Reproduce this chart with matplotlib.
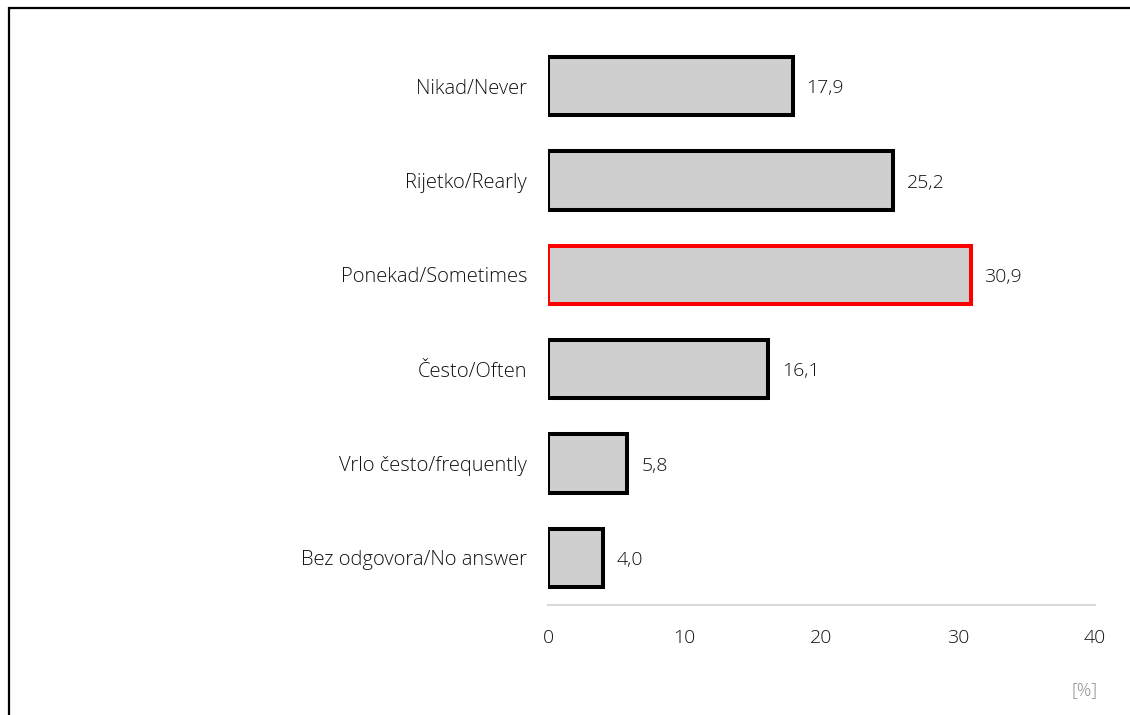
import matplotlib.pyplot as plt
from matplotlib.patches import Rectangle

categories = ['Nikad/Never', 'Rijetko/Rearly', 'Ponekad/Sometimes',
              'Često/Often', 'Vrlo često/frequently', 'Bez odgovora/No answer']
values = [17.9, 25.2, 30.9, 16.1, 5.8, 4.0]
highlight = 'Ponekad/Sometimes'
xticks = [0, 10, 20, 30, 40]

plt.rcParams['font.family'] = ['Open Sans', 'DejaVu Sans']
plt.rcParams['font.weight'] = 'light'

fig = plt.figure(figsize=(11.3, 7.15), dpi=100)
ax = fig.add_axes([548 / 1130, 110 / 715, 547 / 1130, 566 / 715])

pos = list(range(len(categories)))
edges = ['#ff0000' if c == highlight else 'black' for c in categories]
bars = ax.barh(pos, values, height=0.62, color='#d0cfd0',
               edgecolor=edges, linewidth=2.9)

for b, v in zip(bars, values):
    ax.annotate(f'{v:.1f}'.replace('.', ','),
                (b.get_width(), b.get_y() + b.get_height() / 2),
                xytext=(10, -1.5), textcoords='offset points',
                va='center', ha='left', fontsize=14, color='#111111')

ax.set_ylim(len(categories) - 0.5, -0.5)
ax.set_xlim(0, 40)
ax.set_yticks(pos)
ax.set_yticklabels(categories, fontsize=14.5, color='#111111')
ax.set_xticks(xticks)
ax.set_xticklabels([str(t) for t in xticks], fontsize=14, color='#111111')
ax.tick_params(axis='y', length=0, pad=15)
ax.tick_params(axis='x', length=0, pad=17)

for s in ['top', 'right', 'left']:
    ax.spines[s].set_visible(False)
ax.spines['bottom'].set_color('#d9d9d9')
ax.spines['bottom'].set_linewidth(1.5)

fig.text(1085 / 1130, 1 - 690 / 715, '[%]', ha='center', va='center',
         fontsize=13, color='#8c8c8c')

# outer frame, open on the right and bottom
fig.patches.append(Rectangle((8.5 / 1130, -0.1), 1.2, 1 - 7.5 / 715 + 0.1,
                             transform=fig.transFigure, fill=False,
                             edgecolor='black', linewidth=1.6))

fig.savefig('out.png', dpi=100)
